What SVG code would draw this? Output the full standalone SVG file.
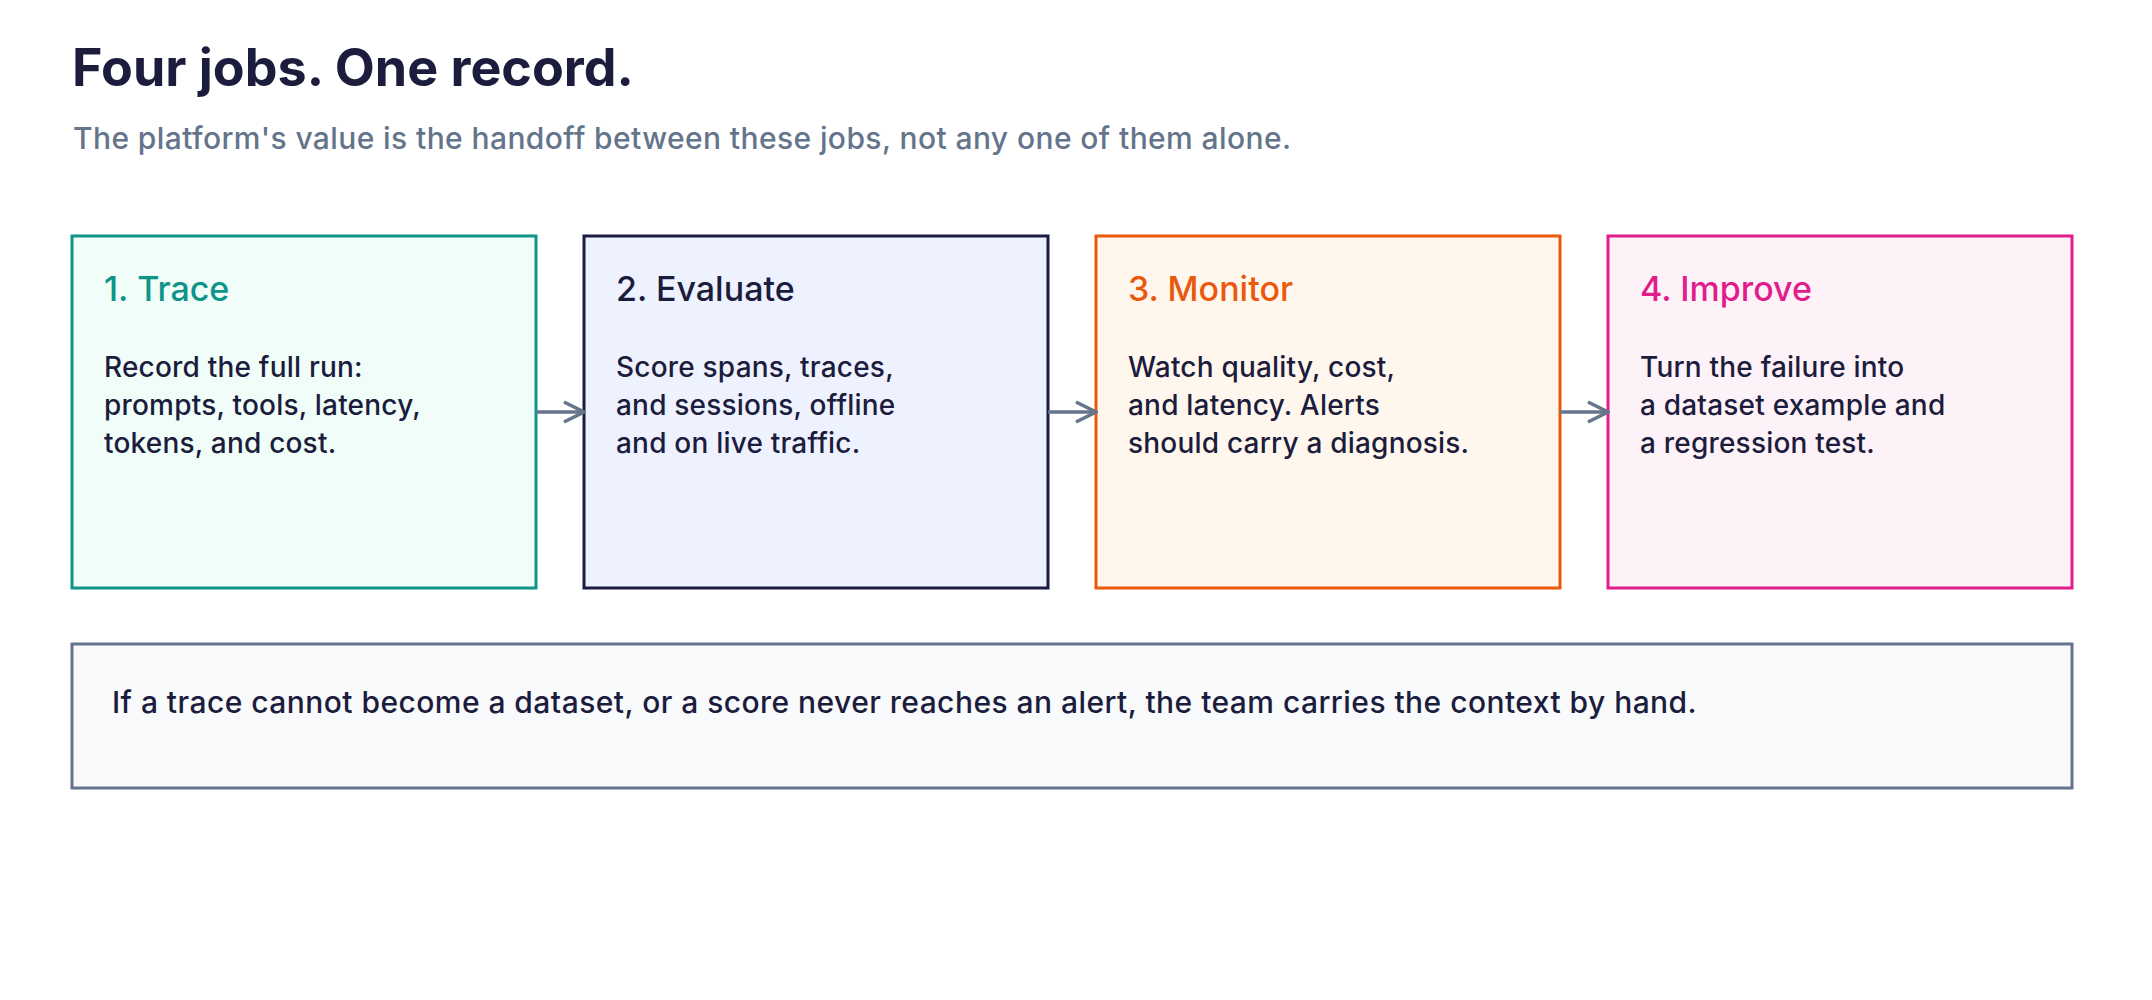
<svg xmlns="http://www.w3.org/2000/svg" width="2152" height="1000" viewBox="0 0 2152 1000">
<defs>
<style>
text{font-family:Inter,"Noto Sans","Liberation Sans",sans-serif;}
.title{font-size:52px;font-weight:700;fill:#1c1c3c;}
.sub{font-size:30px;font-weight:500;fill:#64748b;letter-spacing:0.4px;}
.h{font-size:34px;font-weight:500;}
.b{font-size:28px;font-weight:500;fill:#1c1c3c;letter-spacing:0.2px;}
.note{font-size:30px;font-weight:500;fill:#1c1c3c;letter-spacing:0.45px;}
.box{stroke-width:3;}
.conn{stroke:#64748b;stroke-width:3.5;fill:none;}
</style>
<marker id="arr" viewBox="0 0 24 24" refX="22" refY="12" markerWidth="24" markerHeight="24" markerUnits="userSpaceOnUse" orient="auto">
<path d="M2 2 L22 12 L2 22" fill="none" stroke="#64748b" stroke-width="3.5"/>
</marker>
</defs>
<rect width="2152" height="1000" fill="#ffffff"/>
<text class="title" x="72" y="86">Four jobs. One record.</text>
<text class="sub" x="73" y="149">The platform's value is the handoff between these jobs, not any one of them alone.</text>
<g id="node-trace">
<rect class="box" x="72" y="236" width="464" height="352" fill="#f0fdf9" stroke="#0f9488"/>
<text class="h" x="104" y="301" fill="#0f9488">1. Trace</text>
<text class="b" x="104" y="377">Record the full run:</text>
<text class="b" x="104" y="415">prompts, tools, latency,</text>
<text class="b" x="104" y="453">tokens, and cost.</text>
</g>
<g id="node-evaluate">
<rect class="box" x="584" y="236" width="464" height="352" fill="#eef2ff" stroke="#1c1c3c"/>
<text class="h" x="616" y="301" fill="#1c1c3c">2. Evaluate</text>
<text class="b" x="616" y="377">Score spans, traces,</text>
<text class="b" x="616" y="415">and sessions, offline</text>
<text class="b" x="616" y="453">and on live traffic.</text>
</g>
<g id="node-monitor">
<rect class="box" x="1096" y="236" width="464" height="352" fill="#fff7ed" stroke="#ea580c"/>
<text class="h" x="1128" y="301" fill="#ea580c">3. Monitor</text>
<text class="b" x="1128" y="377">Watch quality, cost,</text>
<text class="b" x="1128" y="415">and latency. Alerts</text>
<text class="b" x="1128" y="453">should carry a diagnosis.</text>
</g>
<g id="node-improve">
<rect class="box" x="1608" y="236" width="464" height="352" fill="#fdf2f8" stroke="#e11d8c"/>
<text class="h" x="1640" y="301" fill="#e11d8c">4. Improve</text>
<text class="b" x="1640" y="377">Turn the failure into</text>
<text class="b" x="1640" y="415">a dataset example and</text>
<text class="b" x="1640" y="453">a regression test.</text>
</g>
<g id="connectors">
<line class="conn" x1="536" y1="412" x2="584" y2="412" marker-end="url(#arr)"/>
<line class="conn" x1="1048" y1="412" x2="1096" y2="412" marker-end="url(#arr)"/>
<line class="conn" x1="1560" y1="412" x2="1608" y2="412" marker-end="url(#arr)"/>
</g>
<g id="node-note">
<rect x="72" y="644" width="2000" height="144" fill="#f8fafc" stroke="#64748b" stroke-width="3"/>
<text class="note" x="112" y="713">If a trace cannot become a dataset, or a score never reaches an alert, the team carries the context by hand.</text>
</g>
</svg>
